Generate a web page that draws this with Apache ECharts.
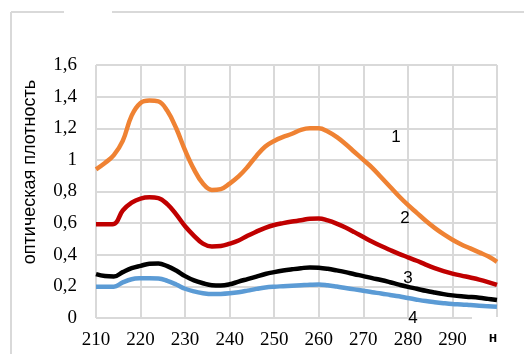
<!DOCTYPE html>
<html>
<head>
<meta charset="utf-8">
<script src="https://cdn.jsdelivr.net/npm/echarts@6/dist/echarts.min.js"></script>
<style>
html,body{margin:0;padding:0;background:#fff;}
#chart{width:524px;height:354px;}
</style>
</head>
<body>
<div id="chart"></div>
<script>
var wavelengths = [210,212,214,216,218,220,222,224,226,228,230,232,234,236,238,240,242,244,246,248,250,252,254,256,258,260,262,264,266,268,270,272,274,276,278,280,282,284,286,288,290,292,294,296,298,300];
var curve1 = [0.94,0.98,1.03,1.12,1.28,1.36,1.375,1.37,1.31,1.20,1.06,0.94,0.85,0.81,0.815,0.85,0.895,0.955,1.025,1.085,1.12,1.145,1.165,1.19,1.20,1.20,1.18,1.145,1.10,1.05,1.00,0.95,0.89,0.83,0.77,0.715,0.665,0.615,0.57,0.53,0.495,0.465,0.44,0.415,0.39,0.355];
var curve2 = [0.593,0.593,0.595,0.68,0.73,0.755,0.763,0.758,0.72,0.655,0.58,0.52,0.47,0.452,0.455,0.47,0.49,0.52,0.546,0.57,0.588,0.60,0.61,0.618,0.628,0.63,0.617,0.597,0.572,0.543,0.512,0.482,0.455,0.43,0.406,0.384,0.362,0.338,0.316,0.297,0.281,0.268,0.256,0.243,0.227,0.209];
var curve3 = [0.278,0.265,0.262,0.29,0.315,0.33,0.343,0.345,0.328,0.30,0.265,0.238,0.22,0.207,0.205,0.213,0.23,0.246,0.262,0.278,0.29,0.30,0.308,0.315,0.32,0.318,0.311,0.301,0.29,0.277,0.265,0.252,0.24,0.226,0.211,0.197,0.185,0.172,0.161,0.151,0.143,0.137,0.133,0.128,0.121,0.114];
var curve4 = [0.198,0.198,0.198,0.225,0.245,0.251,0.252,0.25,0.235,0.212,0.185,0.168,0.157,0.151,0.152,0.156,0.163,0.173,0.184,0.193,0.198,0.201,0.204,0.207,0.21,0.212,0.207,0.199,0.19,0.181,0.172,0.163,0.155,0.146,0.137,0.126,0.116,0.107,0.1,0.094,0.089,0.086,0.082,0.078,0.075,0.071];
var seriesNames = ['1','2','3','4'];
var seriesColors = ['#ef8233','#c00000','#000000','#5b9bd5'];
var yAxisTitle = 'оптическая плотность';
var xAxisTitle = 'н';

function pairs(vals){ return wavelengths.map(function(w,i){ return [w, vals[i]]; }); }
var allCurves = [curve1, curve2, curve3, curve4];

var chart = echarts.init(document.getElementById('chart'));
var gridColor = '#d9d9d9';
var option = {
  animation: false,
  grid: {left: 96, right: 27, top: 65, bottom: 36, containLabel: false},
  xAxis: {
    type: 'value', min: 210, max: 300, interval: 10,
    axisLine: {show: false}, axisTick: {show: false},
    splitLine: {show: true, lineStyle: {color: gridColor, width: 2}},
    axisLabel: {
      margin: 13, color: '#000', fontFamily: 'Liberation Serif', fontSize: 19,
      formatter: function(v){ return v >= 300 ? '' : String(v); }
    }
  },
  yAxis: {
    type: 'value', min: 0, max: 1.6, interval: 0.2,
    axisLine: {show: false}, axisTick: {show: false},
    splitLine: {show: true, lineStyle: {color: gridColor, width: 2}},
    axisLabel: {
      margin: 19, color: '#000', fontFamily: 'Liberation Serif', fontSize: 19,
      formatter: function(v){ return String(+v.toFixed(1)).replace('.', ','); }
    }
  },
  series: allCurves.map(function(c, i){
    return {
      name: seriesNames[i], type: 'line', data: pairs(c),
      smooth: 0.4, showSymbol: false, symbol: 'none',
      lineStyle: {color: seriesColors[i], width: 4.5},
      z: 2 + (3 - i)
    };
  }),
  graphic: [
    {type: 'line', shape: {x1: 11, y1: 12, x2: 11, y2: 354}, style: {stroke: gridColor, lineWidth: 2}, z: 0},
    {type: 'line', shape: {x1: 11, y1: 12, x2: 64, y2: 12}, style: {stroke: gridColor, lineWidth: 2}, z: 0},
    {type: 'line', shape: {x1: 112, y1: 12, x2: 524, y2: 12}, style: {stroke: gridColor, lineWidth: 2}, z: 0},
    {type: 'text', x: 30, y: 172, rotation: Math.PI/2, style: {text: yAxisTitle, fill: '#000', font: '18px "Liberation Sans"', textAlign: 'center', textVerticalAlign: 'middle'}, z: 10},
    {type: 'text', x: 396, y: 137, style: {text: seriesNames[0], fill: '#000', font: '17px "Liberation Sans"', textAlign: 'center', textVerticalAlign: 'middle'}, z: 10},
    {type: 'text', x: 405, y: 218, style: {text: seriesNames[1], fill: '#000', font: '17px "Liberation Sans"', textAlign: 'center', textVerticalAlign: 'middle'}, z: 10},
    {type: 'text', x: 408, y: 278, style: {text: seriesNames[2], fill: '#000', font: '17px "Liberation Sans"', textAlign: 'center', textVerticalAlign: 'middle'}, z: 10},
    {type: 'rect', shape: {x: 472, y: 317, width: 60, height: 40}, style: {fill: '#fff'}, z: 9},
    {type: 'text', x: 413, y: 318, style: {text: seriesNames[3], fill: '#000', font: '17px "Liberation Sans"', textAlign: 'center', textVerticalAlign: 'middle'}, z: 10},
    {type: 'text', x: 493, y: 338, style: {text: xAxisTitle, fill: '#000', font: 'bold 14px "Liberation Sans"', textAlign: 'center', textVerticalAlign: 'middle'}, z: 10}
  ]
};
chart.setOption(option);
</script>
</body>
</html>
